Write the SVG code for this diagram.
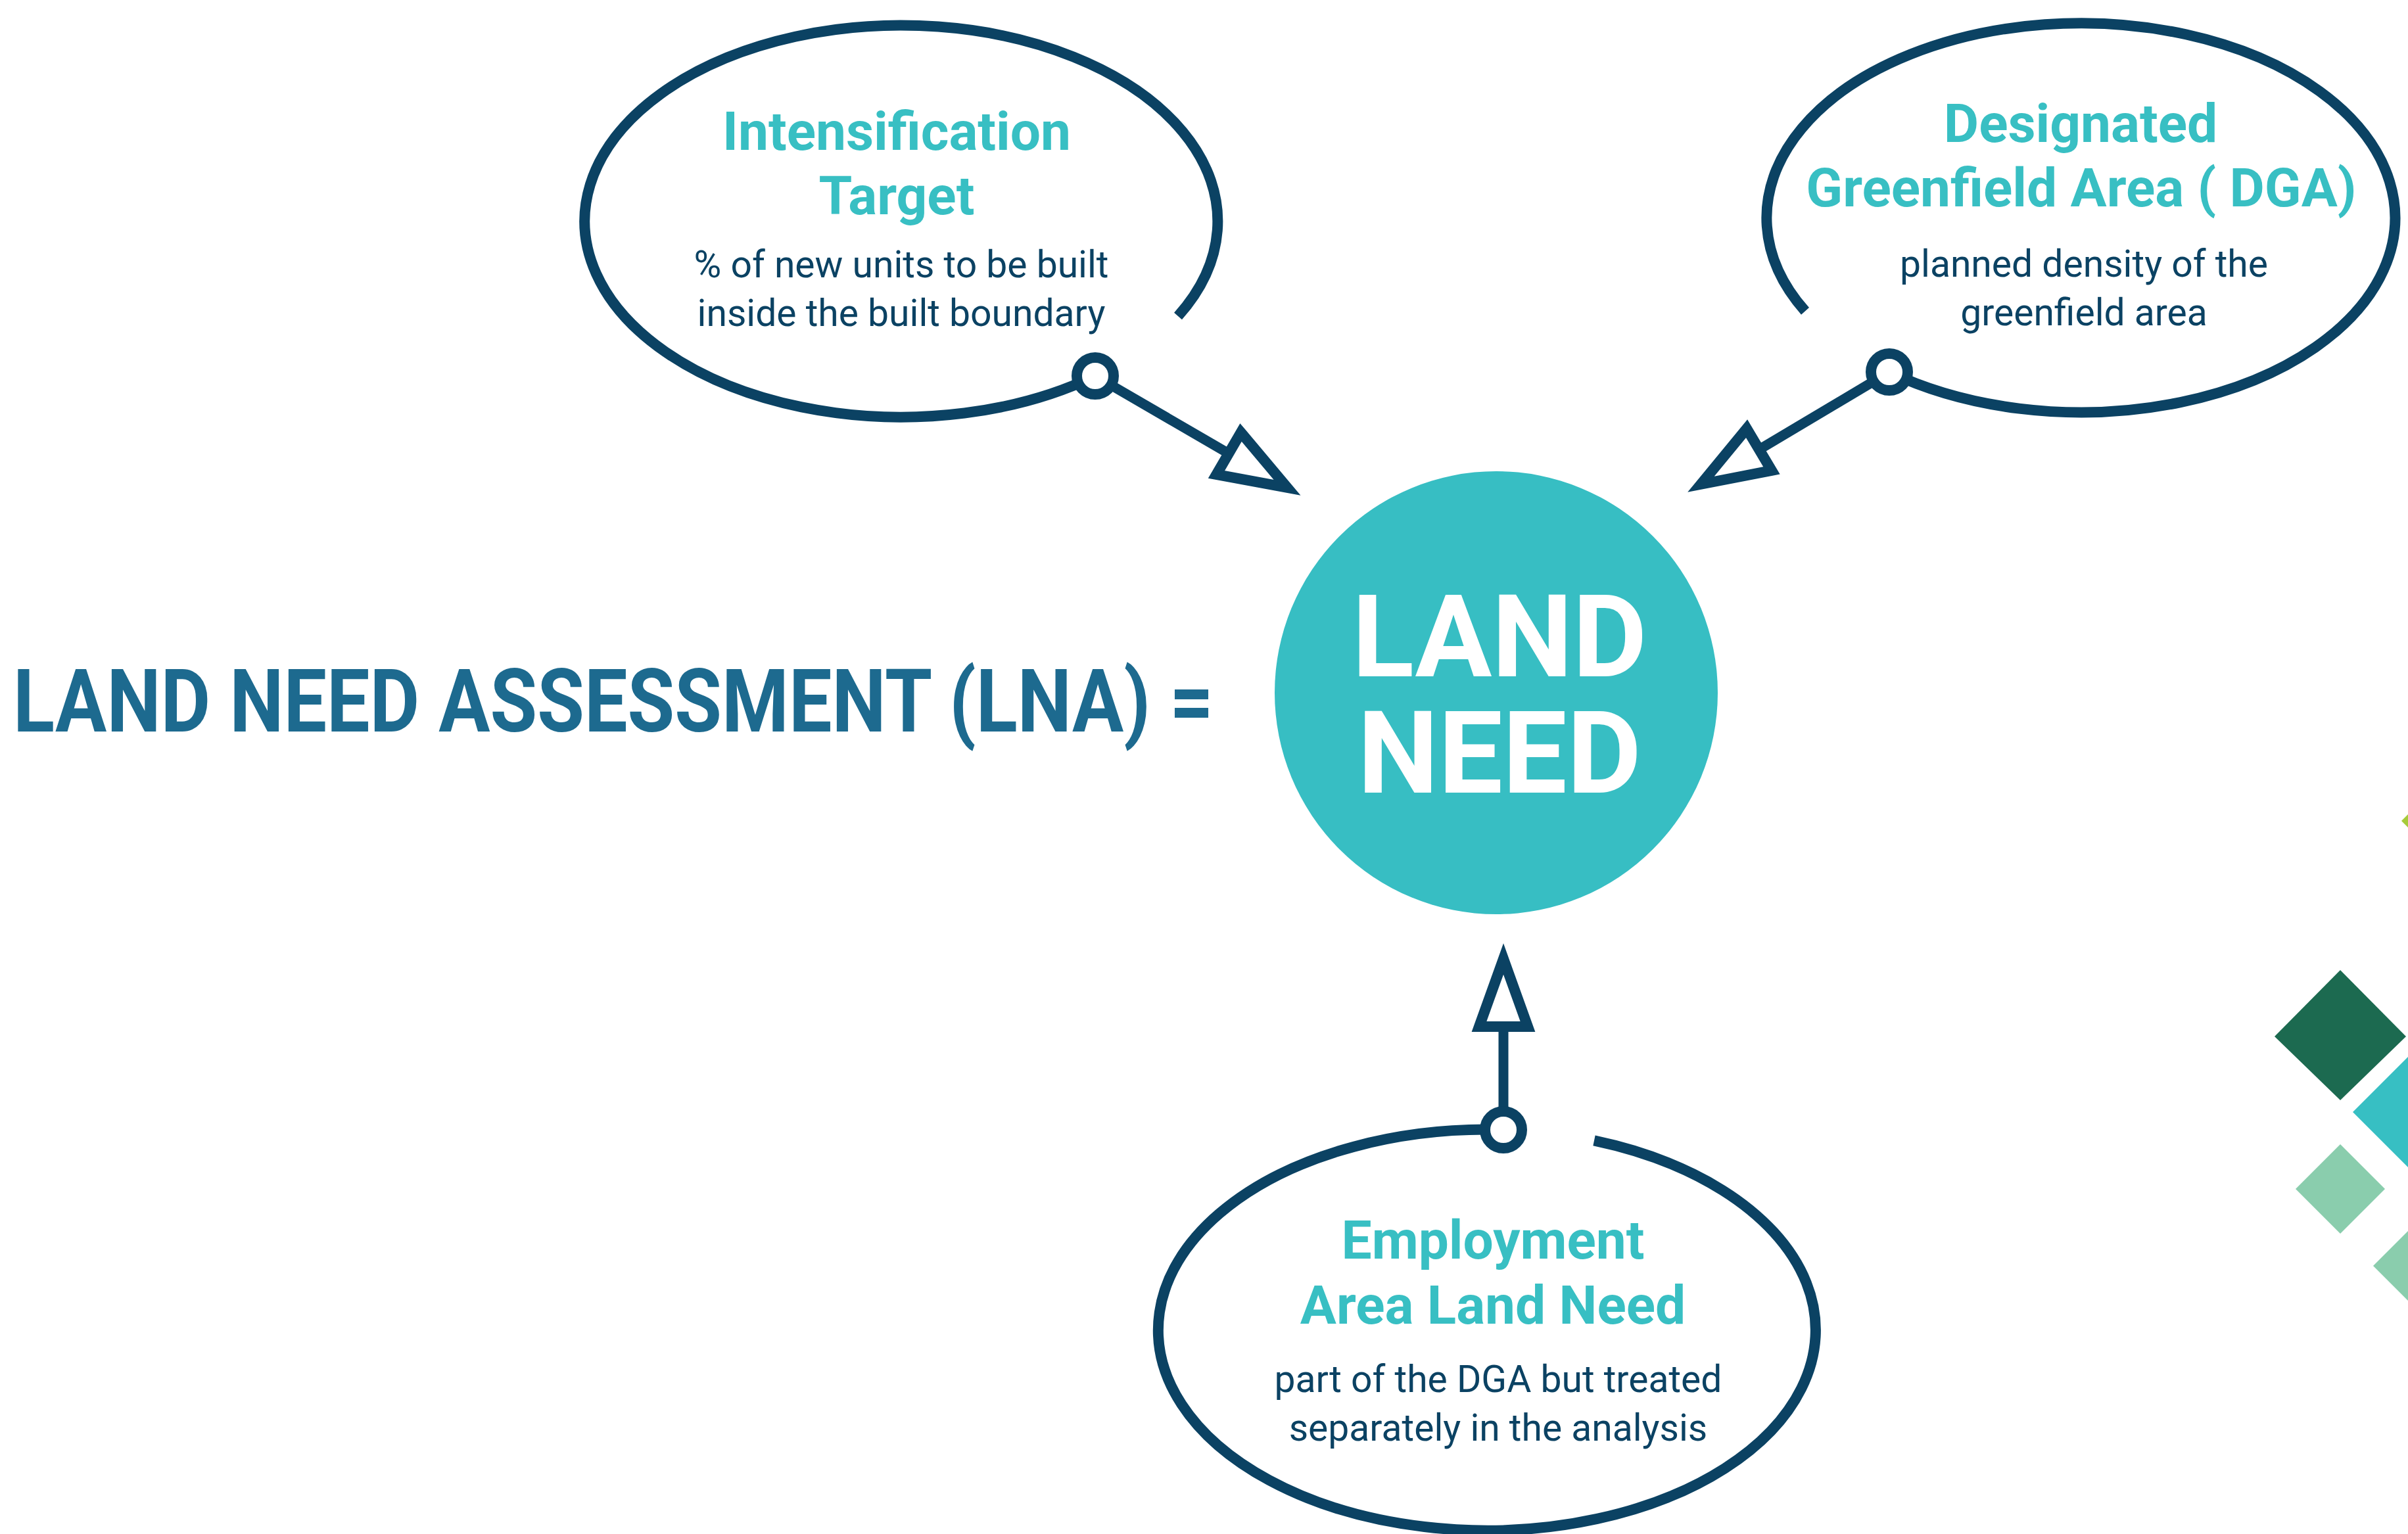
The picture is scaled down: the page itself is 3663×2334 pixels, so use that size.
<svg xmlns="http://www.w3.org/2000/svg" width="3663" height="2334" viewBox="0 0 3663 2334">
<style>
.bubble{fill:none;stroke:#0b4263;stroke-width:16}
.head{font-family:Roboto,"Liberation Sans",sans-serif;font-weight:700;font-size:82px;fill:#38bfc3;text-anchor:middle}
.sub{font-family:Roboto,"Liberation Sans",sans-serif;font-weight:400;font-size:57px;fill:#0b4263;text-anchor:middle}
.big{font-family:Roboto,"Liberation Sans",sans-serif;font-weight:700;font-size:174px;fill:#ffffff;text-anchor:middle}
.title{font-family:Roboto,"Liberation Sans",sans-serif;font-weight:700;font-size:134px;fill:#1d6a8f}
.conn{fill:none;stroke:#0b4263;stroke-width:15;marker-start:url(#dot);marker-end:url(#arrow)}
</style>
<defs>
<marker id="arrow" markerUnits="userSpaceOnUse" viewBox="-20 -60 160 120" markerWidth="160" markerHeight="120" refX="0" refY="0" orient="auto" overflow="visible">
<path d="M0 -37 L103 0 L0 37 Z" fill="#ffffff" stroke="#0b4263" stroke-width="16" stroke-linejoin="miter" stroke-miterlimit="10"/>
</marker>
<marker id="dot" markerUnits="userSpaceOnUse" viewBox="-40 -40 80 80" markerWidth="80" markerHeight="80" refX="0" refY="0" overflow="visible">
<circle r="28" fill="#ffffff" stroke="#0b4263" stroke-width="16"/>
</marker>
</defs>
<rect width="3663" height="2334" fill="#ffffff"/>

<g id="decoration">
<polygon points="3653,1249 3673,1229 3693,1249 3673,1269" fill="#a6cb3a"/>
<polygon points="3460,1577 3560,1476 3660,1577 3560,1674" fill="#1c6a50"/>
<polygon points="3579,1692 3679,1592 3779,1692 3679,1792" fill="#37bfc3"/>
<polygon points="3492,1809 3560,1741 3628,1809 3560,1877" fill="#8acdad"/>
<polygon points="3610,1926 3678,1858 3746,1926 3678,1994" fill="#8acdad"/>
</g>

<g id="title">
<text class="title" x="20" y="1113" textLength="1826" lengthAdjust="spacingAndGlyphs">LAND NEED ASSESSMENT (LNA) =</text>
</g>

<g id="node-land-need">
<circle cx="2276" cy="1054" r="337" fill="#37bec3"/>
<text class="big" x="2281" y="1029">LAND<tspan x="2281" y="1206">NEED</tspan></text>
</g>

<g id="node-intensification">
<path class="bubble" d="M1666 572 A481.5 298 0 1 1 1792 481"/>
<text class="head" x="1364" y="228">Intensification</text>
<text class="head" x="1364" y="326">Target</text>
<text class="sub" x="1371" y="422">% of new units to be built</text>
<text class="sub" x="1371" y="496">inside the built boundary</text>
</g>

<g id="node-dga">
<path class="bubble" d="M2874 566 A478 296 0 1 0 2746 473.4"/>
<text class="head" x="3165" y="216">Designated</text>
<text class="head" x="3166" y="314">Greenfield Area ( DGA)</text>
<text class="sub" x="3170" y="421">planned density of the</text>
<text class="sub" x="3170" y="495">greenfield area</text>
</g>

<g id="node-employment">
<path class="bubble" d="M2287 1719 A500 305 0 1 0 2425 1735.3"/>
<text class="head" x="2271" y="1915">Employment</text>
<text class="head" x="2271" y="2014">Area Land Need</text>
<text class="sub" x="2279" y="2118">part of the DGA but treated</text>
<text class="sub" x="2279" y="2192">separately in the analysis</text>
</g>

<g id="connectors">
<path class="conn" d="M1666 572 L1869 690"/>
<path class="conn" d="M2874 566 L2676 684"/>
<path class="conn" d="M2287 1719 L2287 1562"/>
</g>
</svg>
